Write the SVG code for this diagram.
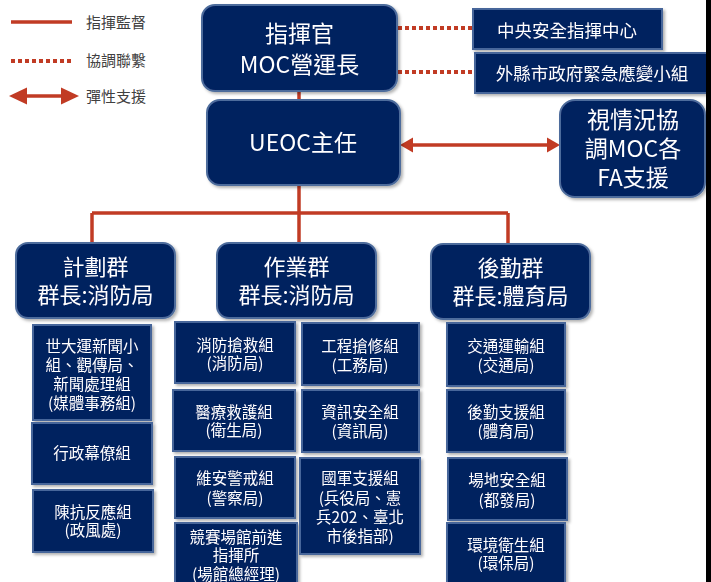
<svg xmlns="http://www.w3.org/2000/svg" width="711" height="582" viewBox="0 0 711 582">
<style>
text{font-family:"Noto Sans CJK TC","Noto Sans",sans-serif;fill:#ffffff;text-anchor:middle}
.lg{fill:#404040;text-anchor:start;font-size:15px}
.big{font-size:23px}
.mid{font-size:22px}
.box{font-size:17.5px}
.sm{font-size:15.5px}
.rnode{fill:#06215f;stroke:#4d6c9c;stroke-width:2}
.snode{fill:#06215f;stroke:#46669a;stroke-width:2}
.line{stroke:#c13b24;stroke-width:3.5;fill:none}
.dot{stroke:#c13b24;stroke-width:4;fill:none;stroke-dasharray:4 3}
</style>
<defs>
<filter id="sh" x="-10%" y="-10%" width="125%" height="125%">
<feDropShadow dx="2" dy="2" stdDeviation="1.5" flood-color="#000" flood-opacity="0.3"/>
</filter>
</defs>
<rect width="711" height="582" fill="#ffffff"/>

<g id="legend">
<line x1="11" y1="22" x2="72" y2="22" class="line" stroke-width="4"/>
<text class="lg" x="86" y="28">指揮監督</text>
<line x1="11" y1="61" x2="74" y2="61" class="dot"/>
<text class="lg" x="86" y="66">協調聯繫</text>
<line x1="24" y1="96" x2="64" y2="96" class="line" stroke-width="4"/>
<polygon points="9,96 27,87.5 27,104.5" fill="#c13b24"/>
<polygon points="79,96 61,87.5 61,104.5" fill="#c13b24"/>
<text class="lg" x="86" y="102">彈性支援</text>
</g>

<g id="connectors">
<line x1="299" y1="91" x2="299" y2="100" class="line"/>
<line x1="299" y1="185" x2="299" y2="243" class="line"/>
<line x1="92" y1="213" x2="508" y2="213" class="line"/>
<line x1="92" y1="213" x2="92" y2="243" class="line"/>
<line x1="508" y1="213" x2="508" y2="244" class="line"/>
<line x1="398" y1="28" x2="473" y2="28" class="dot"/>
<line x1="398" y1="72" x2="475" y2="72" class="dot"/>
<line x1="410" y1="145" x2="549" y2="145" class="line" stroke-width="4"/>
<polygon points="400,145 413,137.5 413,152.5" fill="#c13b24"/>
<polygon points="560,145 547,137.5 547,152.5" fill="#c13b24"/>
</g>

<g id="commander" filter="url(#sh)">
<rect class="rnode" x="202" y="5" width="195" height="86" rx="13"/>
<text class="big" x="299.5" y="42">指揮官</text>
<text class="big" x="299.5" y="73">MOC營運長</text>
</g>

<g id="ueoc" filter="url(#sh)">
<rect class="rnode" x="207" y="100" width="193" height="85" rx="13"/>
<text class="big" x="303" y="151">UEOC主任</text>
</g>

<g id="central" filter="url(#sh)">
<rect class="snode" x="473" y="9" width="189" height="40"/>
<text class="box" x="567" y="37">中央安全指揮中心</text>
</g>

<g id="outside" filter="url(#sh)">
<rect class="snode" x="475" y="53" width="240" height="40"/>
<text class="box" x="592" y="80">外縣市政府緊急應變小組</text>
</g>

<g id="fa" filter="url(#sh)">
<rect class="rnode" x="560" y="100" width="145" height="97" rx="15"/>
<text class="big" x="633" y="128" font-size="24">視情況協</text>
<text class="big" x="633" y="157" font-size="24">調MOC各</text>
<text class="big" x="633" y="186" font-size="24">FA支援</text>
</g>

<g id="planning" filter="url(#sh)">
<rect class="rnode" x="16" y="243" width="159" height="75" rx="12"/>
<text class="mid" x="95.5" y="275">計劃群</text>
<text class="mid" x="95.5" y="303">群長:消防局</text>
</g>

<g id="operations" filter="url(#sh)">
<rect class="rnode" x="217" y="243" width="159" height="75" rx="12"/>
<text class="mid" x="296.5" y="275">作業群</text>
<text class="mid" x="296.5" y="303">群長:消防局</text>
</g>

<g id="logistics" filter="url(#sh)">
<rect class="rnode" x="431" y="244" width="159" height="75" rx="12"/>
<text class="mid" x="510.5" y="276">後勤群</text>
<text class="mid" x="510.5" y="304">群長:體育局</text>
</g>

<g id="news" filter="url(#sh)">
<rect class="snode" x="33" y="325" width="118" height="95"/>
<text class="sm" x="92" y="352">世大運新聞小</text>
<text class="sm" x="92" y="371">組、觀傳局、</text>
<text class="sm" x="92" y="390">新聞處理組</text>
<text class="sm" x="92" y="409">(媒體事務組)</text>
</g>

<g id="admin" filter="url(#sh)">
<rect class="snode" x="32" y="423" width="120" height="61"/>
<text class="sm" x="92" y="459">行政幕僚組</text>
</g>

<g id="protest" filter="url(#sh)">
<rect class="snode" x="33" y="490" width="120" height="62"/>
<text class="sm" x="93" y="518">陳抗反應組</text>
<text class="sm" x="93" y="536">(政風處)</text>
</g>

<g id="fire" filter="url(#sh)">
<rect class="snode" x="175" y="322" width="120" height="61"/>
<text class="sm" x="235" y="351">消防搶救組</text>
<text class="sm" x="235" y="369">(消防局)</text>
</g>

<g id="medical" filter="url(#sh)">
<rect class="snode" x="173" y="390" width="122" height="61"/>
<text class="sm" x="234" y="418">醫療救護組</text>
<text class="sm" x="234" y="436">(衛生局)</text>
</g>

<g id="security" filter="url(#sh)">
<rect class="snode" x="175" y="457" width="120" height="61"/>
<text class="sm" x="235" y="484">維安警戒組</text>
<text class="sm" x="235" y="504">(警察局)</text>
</g>

<g id="venue" filter="url(#sh)">
<rect class="snode" x="175" y="523" width="122" height="70"/>
<text class="sm" x="236" y="543">競賽場館前進</text>
<text class="sm" x="236" y="561">指揮所</text>
<text class="sm" x="236" y="580">(場館總經理)</text>
</g>

<g id="engineering" filter="url(#sh)">
<rect class="snode" x="302" y="323" width="117" height="62"/>
<text class="sm" x="360" y="352">工程搶修組</text>
<text class="sm" x="360" y="371">(工務局)</text>
</g>

<g id="infosec" filter="url(#sh)">
<rect class="snode" x="302" y="390" width="117" height="62"/>
<text class="sm" x="360" y="418">資訊安全組</text>
<text class="sm" x="360" y="437">(資訊局)</text>
</g>

<g id="military" filter="url(#sh)">
<rect class="snode" x="300" y="458" width="120" height="96"/>
<text class="sm" x="360" y="484">國軍支援組</text>
<text class="sm" x="360" y="504">(兵役局、憲</text>
<text class="sm" x="360" y="523">兵202、臺北</text>
<text class="sm" x="360" y="542">市後指部)</text>
</g>

<g id="traffic" filter="url(#sh)">
<rect class="snode" x="447" y="323" width="118" height="63"/>
<text class="sm" x="506" y="352">交通運輸組</text>
<text class="sm" x="506" y="371">(交通局)</text>
</g>

<g id="logsupport" filter="url(#sh)">
<rect class="snode" x="447" y="390" width="118" height="62"/>
<text class="sm" x="506" y="418">後勤支援組</text>
<text class="sm" x="506" y="437">(體育局)</text>
</g>

<g id="site" filter="url(#sh)">
<rect class="snode" x="448" y="458" width="119" height="62"/>
<text class="sm" x="507" y="486">場地安全組</text>
<text class="sm" x="507" y="506">(都發局)</text>
</g>

<g id="environment" filter="url(#sh)">
<rect class="snode" x="447" y="523" width="118" height="70"/>
<text class="sm" x="506" y="551">環境衛生組</text>
<text class="sm" x="506" y="569">(環保局)</text>
</g>

<rect x="706" y="0" width="5" height="582" fill="#000000"/>
</svg>
